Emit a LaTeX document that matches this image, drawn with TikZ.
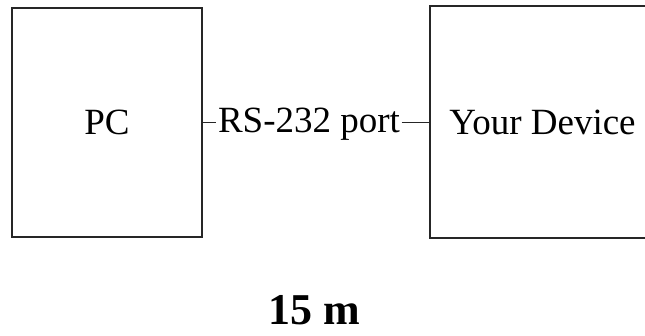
\documentclass[tikz,border=0pt]{standalone}
\usepackage{fontspec}
\setmainfont{Liberation Serif}
\begin{document}
\begin{tikzpicture}[x=1pt,y=-1pt,
  blockbox/.style={draw=black!85,line width=1.5pt,inner sep=0pt,font=\fontsize{37}{40}\selectfont},
  conn/.style={draw=black!85,line width=1.6pt}]
\useasboundingbox (0,0) rectangle (645,336);
\clip (0,0) rectangle (645,336);
\node[blockbox,minimum width=190pt,minimum height=229pt] (pc) at (107,122.5) {PC};
\node[blockbox,minimum width=225pt,minimum height=232pt] (dev) at (542.5,122) {Your Device};
\node[anchor=base,inner sep=1.5pt,font=\fontsize{37}{40}\selectfont] (rs) at (309,133) {RS-232 port};
\draw[conn] (pc.east) -- (pc.east -| rs.west);
\draw[conn] (rs.east |- pc.east) -- (dev.west |- pc.east);
\node[anchor=base,font=\fontsize{44}{50}\selectfont\bfseries] (len) at (314.5,325) {15 m};
\end{tikzpicture}
\end{document}
